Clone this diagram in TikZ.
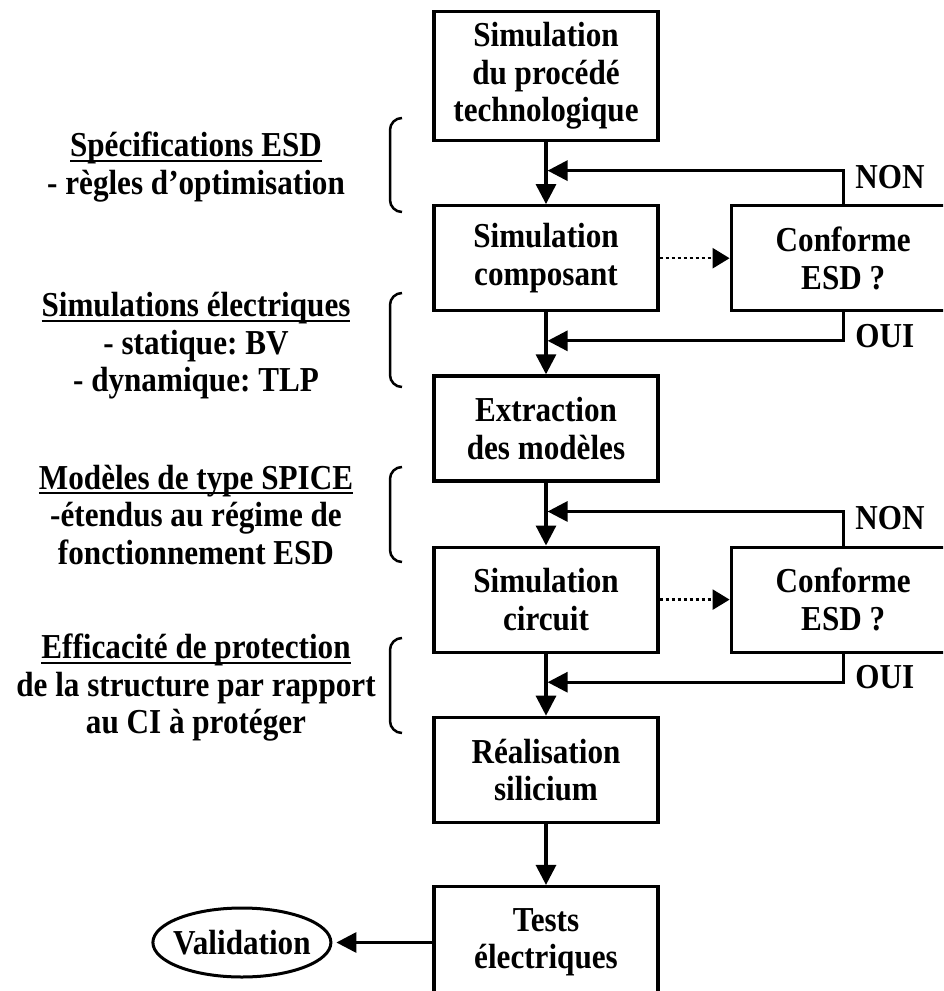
\documentclass[tikz,border=0pt]{standalone}
\usepackage{fontspec}
\setmainfont{Liberation Serif}[FakeStretch=0.89]
\frenchspacing
\usetikzlibrary{arrows.meta, calc, positioning, shapes.geometric}

\newsavebox{\ulbox}
\newcommand{\ulined}[1]{\sbox\ulbox{#1}\rlap{\rule[-5pt]{\wd\ulbox}{2.2pt}}\usebox\ulbox}

\begin{document}
\begin{tikzpicture}[
  x=1pt, y=1pt,
  font=\fontsize{35}{37.5}\selectfont\bfseries,
  stepbox/.style={draw, line width=3.2pt, minimum width=224pt, minimum height=105pt, inner sep=0},
  terminal/.style={draw, line width=3pt, ellipse, minimum width=178pt, minimum height=69pt, inner sep=0},
  note/.style={inner sep=0},
  flag/.style={inner sep=0},
  to/.style={-{Triangle[length=20pt, width=20pt]}, line width=3.2pt},
  back/.style={to, shorten >=1.6pt},
  dots/.style={-{Triangle[length=17pt, width=20pt]}, line width=2.5pt, dash pattern=on 3pt off 3pt},
  bracket/.style={line width=2.5pt, rounded corners=12pt},
  every node/.style={align=center}]

  \useasboundingbox (0,0) rectangle (943,-991);
  \clip (0,0) rectangle (943,-991);

  % Main column of steps
  \node[stepbox, minimum height=129pt] (proc) at (546,-76) {Simulation\\du procédé\\technologique};
  \node[stepbox, below=62pt of proc] (comp) {Simulation\\composant};
  \node[stepbox, below=62pt of comp] (extr) {Extraction\\des modèles};
  \node[stepbox, below=63pt of extr] (circ) {Simulation\\circuit};
  \node[stepbox, below=62pt of circ] (real) {Réalisation\\silicium};
  \node[stepbox, below=61pt of real, minimum height=112pt] (tests) {Tests\\électriques};

  % ESD checks, their right side runs off the page
  \node[stepbox, right=70pt of comp] (conf1) {Conforme\\ESD ?};
  \node[stepbox, right=70pt of circ] (conf2) {Conforme\\ESD ?};

  \node[terminal, left=100pt of tests] (valid) {\makebox[100pt]{Validation}};

  % Notes on the left with their brackets
  \node[note] (spec) at (196,-167) {\ulined{Spécifications ESD}\\- règles d’optimisation};
  \node[note] (elec) at (196,-346) {\ulined{Simulations électriques}\\- statique: BV\\- dynamique: TLP};
  \node[note] (spice) at (196,-515) {\ulined{Modèles de type SPICE}\\-étendus au régime de\\fonctionnement ESD};
  \node[note] (prot) at (196,-688) {\ulined{Efficacité de protection}\\de la structure par rapport\\au CI à protéger};

  \foreach \ya/\yb in {118/212, 293/387, 467/562, 638/733}
    \draw[bracket] (402,-\ya) -| (390,-\yb) -- (402,-\yb);

  % Flow down the column
  \draw[to] (proc) -- (comp);
  \draw[to] (comp) -- (extr);
  \draw[to] (extr) -- (circ);
  \draw[to] (circ) -- (real);
  \draw[to] (real) -- (tests);
  \draw[to, shorten >=4pt] (tests) -- (valid);

  % Feedback from the checks
  \path (proc.south) -- (comp.north) coordinate[pos=0.46] (non1);
  \path (comp.south) -- (extr.north) coordinate[pos=0.46] (oui1);
  \path (extr.south) -- (circ.north) coordinate[pos=0.46] (non2);
  \path (circ.south) -- (real.north) coordinate[pos=0.46] (oui2);

  \draw[dots] (comp) -- (conf1);
  \draw[dots] (circ) -- (conf2);
  \draw[back] (conf1.north) |- (non1);
  \draw[back] (conf1.south) |- (oui1);
  \draw[back] (conf2.north) |- (non2);
  \draw[back] (conf2.south) |- (oui2);

  \node[flag, anchor=base west] (non1lbl) at ($(conf1.north)+(12,16)$) {NON};
  \node[flag, anchor=base west] (oui1lbl) at ($(conf1.south)+(12,-35)$) {OUI};
  \node[flag, anchor=base west] (non2lbl) at ($(conf2.north)+(12,16)$) {NON};
  \node[flag, anchor=base west] (oui2lbl) at ($(conf2.south)+(12,-35)$) {OUI};

\end{tikzpicture}
\end{document}
